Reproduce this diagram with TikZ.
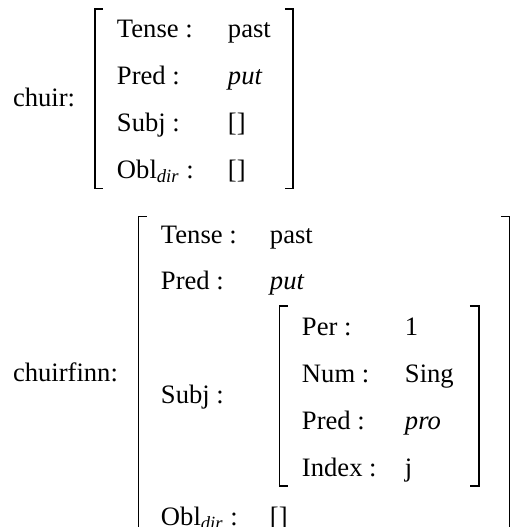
\documentclass[tikz,border=0pt]{standalone}
\usepackage{fontspec}
\setmainfont{Liberation Serif}
\begin{document}
\begin{tikzpicture}[x=0.5pt,y=-0.5pt,
  txt/.style={anchor=base west,inner sep=0pt,outer sep=0pt,font=\fontsize{13.3}{16}\selectfont},
  brk/.style={line width=0.8pt,line cap=butt}]
\path[use as bounding box, clip] (0,0) rectangle (510,527);
% upper structure
\node[txt] (chuir) at (13,106) {chuir:};
\draw[brk] (103,9) -- (95,9) -- (95,188.5) -- (103,188.5);
\draw[brk] (285,9) -- (293,9) -- (293,188.5) -- (285,188.5);
\node[txt] (u1l) at (117,37) {Tense :};
\node[txt] (u1v) at (228,37) {past};
\node[txt] (u2l) at (117,84) {Pred :};
\node[txt] (u2v) at (228,84) {\textit{put}};
\node[txt] (u3l) at (117,131) {Subj :};
\node[txt] (u3v) at (228,131) {[]};
\node[txt] (u4l) at (117,178) {Obl\textsubscript{\textit{dir}} :};
\node[txt] (u4v) at (228,178) {[]};
% lower structure
\node[txt] (chuirfinn) at (13,381) {chuirfinn:};
\draw[brk] (147,216.5) -- (138.5,216.5) -- (138.5,540);
\draw[brk] (501,216.5) -- (509.5,216.5) -- (509.5,540);
\node[txt] (l1l) at (161,243) {Tense :};
\node[txt] (l1v) at (270,243) {past};
\node[txt] (l2l) at (161,289) {Pred :};
\node[txt] (l2v) at (270,289) {\textit{put}};
\node[txt] (l3l) at (161,403) {Subj :};
\node[txt] (l4l) at (161,525) {Obl\textsubscript{\textit{dir}} :};
\node[txt] (l4v) at (270,525) {[]};
% inner structure
\draw[brk] (288,306) -- (279.5,306) -- (279.5,486) -- (288,486);
\draw[brk] (470,306) -- (479,306) -- (479,486) -- (470,486);
\node[txt] (i1l) at (302,335) {Per :};
\node[txt] (i1v) at (405,335) {1};
\node[txt] (i2l) at (302,382) {Num :};
\node[txt] (i2v) at (405,382) {Sing};
\node[txt] (i3l) at (302,429) {Pred :};
\node[txt] (i3v) at (405,429) {\textit{pro}};
\node[txt] (i4l) at (302,476) {Index :};
\node[txt] (i4v) at (405,476) {j};
\end{tikzpicture}
\end{document}
